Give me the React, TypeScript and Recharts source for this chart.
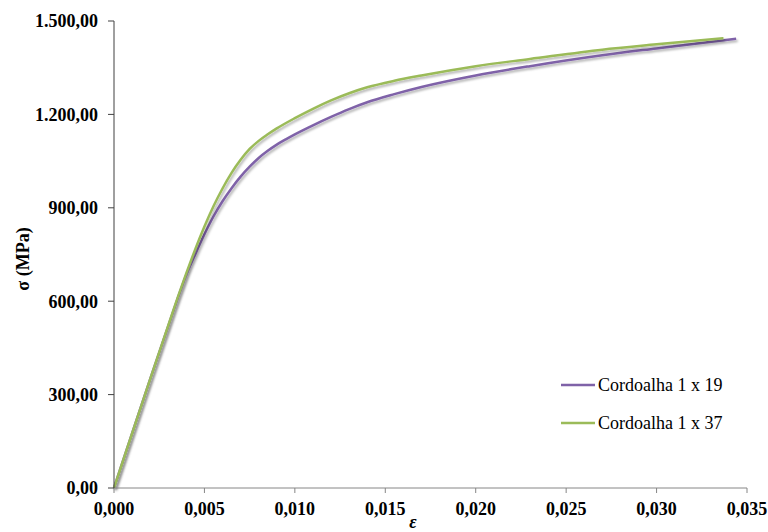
import { LineChart, Line, XAxis, YAxis } from 'recharts'

// strain (ε) and stress (MPa)
const strain19 = [0, 0.001, 0.002, 0.003, 0.0035, 0.004, 0.0045, 0.005, 0.0055, 0.006, 0.0065, 0.007, 0.0075, 0.008, 0.0085, 0.009, 0.0095, 0.010, 0.011, 0.012, 0.013, 0.014, 0.0155, 0.017, 0.020, 0.023, 0.027, 0.030, 0.0344]
const stress19 = [0, 175, 350, 520, 605, 685, 752, 815, 872, 921, 963, 1000, 1032, 1060, 1083, 1103, 1120, 1136, 1165, 1192, 1217, 1239, 1265, 1288, 1325, 1355, 1390, 1412, 1443]

const strain37 = [0, 0.001, 0.002, 0.003, 0.0035, 0.004, 0.0045, 0.005, 0.0055, 0.006, 0.0065, 0.007, 0.0075, 0.008, 0.0085, 0.009, 0.010, 0.011, 0.012, 0.013, 0.014, 0.0155, 0.017, 0.020, 0.023, 0.027, 0.030, 0.0337]
const stress37 = [0, 175, 350, 522, 608, 690, 768, 840, 905, 962, 1012, 1054, 1089, 1115, 1136, 1155, 1188, 1218, 1245, 1268, 1287, 1308, 1325, 1355, 1378, 1408, 1425, 1445]

const seriesNames = ['Cordoalha 1 x 19', 'Cordoalha 1 x 37']
const seriesColors = ['#7F62A8', '#9BBB59']

const xTicks = [0, 0.005, 0.01, 0.015, 0.02, 0.025, 0.03, 0.035]
const yTicks = [0, 300, 600, 900, 1200, 1500]

const data19 = strain19.map((x, i) => ({ x, y: stress19[i] }))
const data37 = strain37.map((x, i) => ({ x, y: stress37[i] }))

const fmtX = (v: number) => v.toFixed(3).replace('.', ',')
const fmtY = (v: number) => {
  const int = Math.round(v).toString().replace(/\B(?=(\d{3})+(?!\d))/g, '.')
  return `${int},00`
}

const font = '"Liberation Serif", "Times New Roman", serif'

export default function App() {
  return (
    <div style={{ position: 'fixed', left: 0, top: 0, width: 768, height: 532, background: '#fff' }}>
      <LineChart width={768} height={532} margin={{ top: 21, right: 21, bottom: 0, left: 0 }}>
        <defs>
          <filter id="lineShadow" x="-5%" y="-5%" width="110%" height="110%">
            <feDropShadow dx="1.5" dy="2" stdDeviation="1.2" floodColor="#000" floodOpacity="0.3" />
          </filter>
        </defs>
        <XAxis
          dataKey="x"
          type="number"
          domain={[0, 0.035]}
          ticks={xTicks}
          tickFormatter={fmtX}
          allowDuplicatedCategory={false}
          height={44}
          tickSize={5}
          tickMargin={9}
          stroke="#868686"
          tick={{ fill: '#000', fontSize: 18, fontWeight: 700, fontFamily: font }}
          label={{
            content: () => (
              <text x={413} y={522} textAnchor="middle" dominantBaseline="central"
                style={{ fontFamily: font, fontSize: 18, fontWeight: 700, fontStyle: 'italic' }} fill="#000">
                ε
              </text>
            ),
          }}
        />
        <YAxis
          type="number"
          domain={[0, 1500]}
          ticks={yTicks}
          tickFormatter={fmtY}
          width={114}
          tickSize={6}
          tickMargin={10}
          stroke="#404040"
          tick={{ fill: '#000', fontSize: 18, fontWeight: 700, fontFamily: font }}
          label={{
            content: () => (
              <text x={23} y={259} textAnchor="middle" dominantBaseline="central"
                transform="rotate(-90 23 259)"
                style={{ fontFamily: font, fontSize: 18, fontWeight: 700 }} fill="#000">
                σ (MPa)
              </text>
            ),
          }}
        />
        <Line
          data={data19}
          dataKey="y"
          name={seriesNames[0]}
          type="monotone"
          stroke={seriesColors[0]}
          strokeWidth={2.5}
          dot={false}
          activeDot={false}
          filter="url(#lineShadow)"
          isAnimationActive={false}
        />
        <Line
          data={data37}
          dataKey="y"
          name={seriesNames[1]}
          type="monotone"
          stroke={seriesColors[1]}
          strokeWidth={2.5}
          dot={false}
          activeDot={false}
          filter="url(#lineShadow)"
          isAnimationActive={false}
        />
      </LineChart>

      {/* legend */}
      <div style={{ position: 'absolute', left: 561, top: 366, fontFamily: font, fontSize: 18, color: '#000' }}>
        {seriesNames.map((name, i) => (
          <div key={name} style={{ display: 'flex', alignItems: 'center', height: 38 }}>
            <svg width="34" height="4" style={{ marginRight: 3 }}>
              <line x1="0" y1="2" x2="34" y2="2" stroke={seriesColors[i]} strokeWidth="2.5" />
            </svg>
            <span>{name}</span>
          </div>
        ))}
      </div>
    </div>
  )
}
